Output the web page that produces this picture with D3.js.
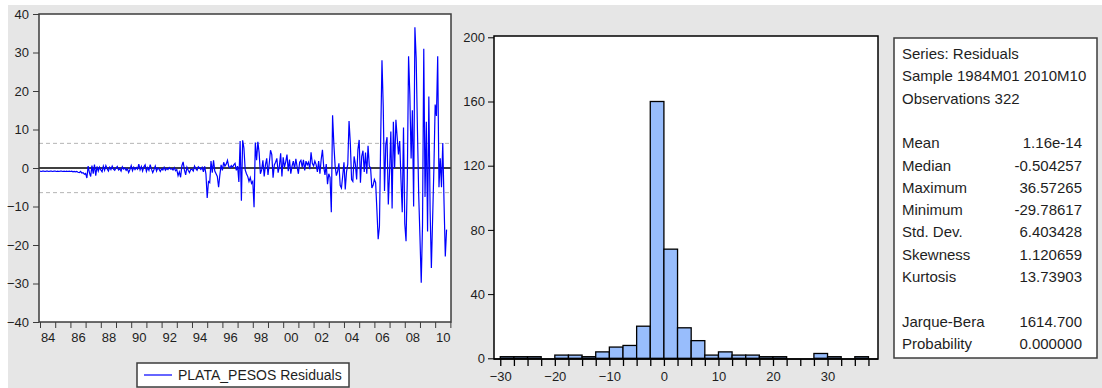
<!DOCTYPE html>
<html>
<head>
<meta charset="utf-8">
<script src="https://cdn.jsdelivr.net/npm/d3@7"></script>
<style>
  body { margin: 0; background: #fff; }
  svg { display: block; font-family: Arial, "Liberation Sans", sans-serif; }
</style>
</head>
<body>
<svg id="chart"></svg>
<script>
const width = 1102;
const height = 388;

// monthly residuals, 1984M01 .. 2010M10 (322 obs)
const residuals = [
  -0.8,-0.9,-0.8,-0.8,-0.9,-0.8,-0.8,-0.9,-0.8,-0.8,-0.9,-0.8, // 84
  -0.8,-0.9,-0.8,-0.9,-0.8,-0.8,-0.9,-0.8,-0.9,-0.8,-0.9,-0.8, // 85
  -0.9,-0.8,-1.0,-0.9,-1.0,-0.9,-1.1,-1.2,-0.9,-1.3,-1.2,-1.6, // 86
  -1.4,-2.6,0.5,-1.2,-2.2,0.6,-1.5,0.9,-2.0,0.4,-0.8,0.2,      // 87
  -0.5,-1.0,0.5,-0.6,0.6,-0.2,-0.8,0.2,-0.4,0.5,-0.3,-0.6,     // 88
  0.0,0.4,-0.5,-0.2,-0.8,0.3,-0.3,0.0,-0.6,-0.2,-1.2,-0.4,     // 89
  0.6,-0.7,0.2,-0.4,0.1,-0.3,1.0,-0.5,0.4,-0.8,0.3,0.8,        // 90
  -0.9,0.1,-0.6,0.9,-0.3,-1.2,-0.4,0.5,-0.8,0.0,-0.3,-0.9,     // 91
  -0.2,-0.5,0.2,-0.6,-0.1,-0.4,0.1,-0.3,-0.2,-0.5,0.1,-0.7,    // 92
  -0.4,-2.0,-1.0,-2.4,0.6,1.6,-0.5,-1.8,0.2,-0.6,-1.2,-0.4,    // 93
  -0.3,-0.8,0.5,-0.2,-0.6,0.3,0.0,-0.4,0.2,-1.0,0.4,-1.5,      // 94
  -7.8,-3.5,-3.8,1.8,-1.2,2.0,-0.8,-1.5,-2.2,-5.0,-1.8,0.8,    // 95
  -0.6,1.5,0.5,1.0,2.0,0.4,0.0,0.6,0.2,0.8,1.2,-0.6,           // 96
  0.5,-3.6,7.0,-8.5,7.2,5.2,-0.5,-1.5,-2.2,-3.5,-2.5,-4.0,     // 97
  -3.5,-10.2,6.6,2.0,6.8,4.0,-1.5,-0.5,2.0,-2.2,0.8,2.5,       // 98
  -1.8,1.2,4.6,3.5,-2.5,0.8,1.5,2.5,-1.2,0.5,3.8,-2.2,         // 99
  2.8,0.2,1.6,3.5,-0.8,2.2,-1.5,0.5,1.8,-0.2,2.4,0.3,          // 00
  -1.5,1.5,2.0,0.2,2.1,-0.6,1.8,0.8,1.5,-0.3,4.1,1.2,          // 01
  0.5,1.8,0.9,-1.0,1.8,-1.5,2.2,4.7,0.3,-1.8,1.0,-4.2,         // 02
  -1.5,-2.5,-11.5,13.7,6.2,0.5,-2.0,-0.8,1.2,-4.5,-5.2,-2.0,   // 03
  1.5,-5.6,-1.0,1.0,12.2,6.5,-3.0,-3.5,3.0,1.0,-3.0,4.8,       // 04
  7.3,-3.8,3.0,4.5,-1.0,4.0,-1.5,5.8,0.5,0.0,-5.2,-4.5,        // 05
  -3.0,-3.8,-11.0,-18.5,-15.2,8.0,28.0,16.0,-6.0,6.0,8.0,-9.5, // 06
  -1.0,9.5,-10.5,12.0,0.0,12.5,8.0,3.5,7.0,-3.0,-11.5,10.5,    // 07
  -14.5,-19.0,-3.0,29.0,19.0,2.5,15.0,-10.0,36.57,28.5,10.0,-7.0, // 08
  -18.0,-29.79,-15.0,31.0,-7.5,12.0,-16.5,18.6,-11.0,-26.0,-13.0,0.0, // 09
  16.5,13.5,29.0,-5.0,2.5,-5.0,6.5,-9.0,-23.0,-16.0            // 10
];

const yearLabels = ["84","86","88","90","92","94","96","98","00","02","04","06","08","10"];
const residualTicks = [-40, -30, -20, -10, 0, 10, 20, 30, 40];
const stdDev = 6.403428;
const seriesName = "PLATA_PESOS Residuals";

// histogram: bins of 2.5 starting at -30
const binStart = -30;
const binWidth = 2.5;
const histCounts = [1,1,1,0,2,2,1,4,7,8,20,160,68,19,11,2,4,2,2,1,1,0,0,3,1,0,1];
const histXLabels = [-30, -20, -10, 0, 10, 20, 30];
const histYTicks = [0, 40, 80, 120, 160, 200];

const statHeader = ["Series: Residuals", "Sample 1984M01 2010M10", "Observations 322"];
const statNames = ["Mean", "Median", "Maximum", "Minimum", "Std. Dev.", "Skewness", "Kurtosis", "", "Jarque-Bera", "Probability"];
const statValues = ["1.16e-14", "-0.504257", "36.57265", "-29.78617", "6.403428", "1.120659", "13.73903", "", "1614.700", "0.000000"];

const svg = d3.select("#chart")
  .attr("width", width)
  .attr("height", height);

// gray panel background
svg.append("rect")
  .attr("x", 8).attr("y", 5)
  .attr("width", width - 8).attr("height", height - 5)
  .attr("fill", "#e6e6e6");

const textColor = "#1e1e1e";

// ---------- left: residual line ----------
const plot = { left: 39, right: 451, top: 14, bottom: 322 };

const x = d3.scaleLinear()
  .domain([-0.8, 324.5])
  .range([plot.left, plot.right]);

const y = d3.scaleLinear()
  .domain([-40, 40])
  .range([plot.bottom, plot.top]);

svg.append("rect")
  .attr("x", plot.left).attr("y", plot.top)
  .attr("width", plot.right - plot.left).attr("height", plot.bottom - plot.top)
  .attr("fill", "#fff");

// +- 1 std dev dashed lines
svg.selectAll(".sd")
  .data([stdDev, -stdDev])
  .enter()
  .append("line")
  .attr("x1", plot.left).attr("x2", plot.right)
  .attr("y1", d => y(d)).attr("y2", d => y(d))
  .attr("stroke", "#b4b4b4")
  .attr("stroke-dasharray", "4,3");

svg.append("line")
  .attr("x1", plot.left).attr("x2", plot.right)
  .attr("y1", y(0)).attr("y2", y(0))
  .attr("stroke", "#000")
  .attr("stroke-width", 1.5);

const line = d3.line()
  .x((d, i) => x(i))
  .y(d => y(d));

svg.append("path")
  .datum(residuals)
  .attr("d", line)
  .attr("fill", "none")
  .attr("stroke", "#0000ff")
  .attr("stroke-width", 1.2);

svg.append("rect")
  .attr("x", plot.left).attr("y", plot.top)
  .attr("width", plot.right - plot.left).attr("height", plot.bottom - plot.top)
  .attr("fill", "none")
  .attr("stroke", "#3c3c3c")
  .attr("stroke-width", 1.5);

// y axis
const yAxis = svg.append("g")
  .attr("transform", `translate(${plot.left},0)`)
  .call(d3.axisLeft(y).tickValues(residualTicks).tickSize(6).tickPadding(4).tickSizeOuter(0));
yAxis.select(".domain").remove();
yAxis.selectAll("line").attr("stroke", "#3c3c3c");
yAxis.selectAll("text").attr("fill", textColor).style("font-size", "13px");

// x axis: year ticks, labels every 2 years at mid-year
const nYears = Math.ceil(residuals.length / 12) + 1;
const yearStarts = d3.range(0, nYears).map(k => k * 12);

const xTicks = svg.append("g")
  .attr("transform", `translate(0,${plot.bottom})`)
  .call(d3.axisBottom(x).tickValues(yearStarts).tickFormat("").tickSize(6).tickSizeOuter(0));
xTicks.select(".domain").remove();
xTicks.selectAll("line").attr("stroke", "#3c3c3c");

const labelMonths = yearLabels.map((d, i) => i * 24 + 6);
const xLabels = svg.append("g")
  .attr("transform", `translate(0,${plot.bottom})`)
  .call(d3.axisBottom(x).tickValues(labelMonths)
    .tickFormat((d, i) => yearLabels[i]).tickSize(0).tickPadding(11));
xLabels.select(".domain").remove();
xLabels.selectAll("text").attr("fill", textColor).style("font-size", "13px");

// legend
const legend = svg.append("g");
legend.append("rect")
  .attr("x", 137).attr("y", 363)
  .attr("width", 212).attr("height", 24)
  .attr("fill", "#fff")
  .attr("stroke", "#3c3c3c")
  .attr("stroke-width", 1.5);
legend.append("line")
  .attr("x1", 144).attr("x2", 172)
  .attr("y1", 375).attr("y2", 375)
  .attr("stroke", "#0000ff")
  .attr("stroke-width", 1.2);
legend.append("text")
  .attr("x", 178).attr("y", 380)
  .attr("fill", textColor)
  .style("font-size", "14px")
  .text(seriesName);

// ---------- middle: histogram ----------
const hist = { left: 494, right: 878, top: 36, bottom: 359 };

const bins = histCounts.map((c, i) => ({
  x0: binStart + i * binWidth,
  x1: binStart + (i + 1) * binWidth,
  count: c
}));

const hx = d3.scaleLinear()
  .domain([-31.15, 39.25])
  .range([hist.left, hist.right]);

const hy = d3.scaleLinear()
  .domain([0, 200])
  .range([358.3, 37.3]);

svg.append("rect")
  .attr("x", hist.left).attr("y", hist.top)
  .attr("width", hist.right - hist.left).attr("height", hist.bottom - hist.top)
  .attr("fill", "#fff")
  .attr("stroke", "#000")
  .attr("stroke-width", 1.5);

svg.selectAll(".bar")
  .data(bins.filter(d => d.count > 0))
  .enter()
  .append("rect")
  .attr("class", "bar")
  .attr("x", d => hx(d.x0))
  .attr("y", d => hy(d.count))
  .attr("width", d => hx(d.x1) - hx(d.x0))
  .attr("height", d => hy(0) - hy(d.count))
  .attr("fill", "#98bdfc")
  .attr("stroke", "#000")
  .attr("stroke-width", 1.3);

svg.append("line")
  .attr("x1", hist.left).attr("x2", hist.right)
  .attr("y1", hist.bottom).attr("y2", hist.bottom)
  .attr("stroke", "#000")
  .attr("stroke-width", 1.5);

const hyAxis = svg.append("g")
  .attr("transform", `translate(${hist.left},0)`)
  .call(d3.axisLeft(hy).tickValues(histYTicks).tickSize(6).tickPadding(3).tickSizeOuter(0));
hyAxis.select(".domain").remove();
hyAxis.selectAll("line").attr("stroke", "#000");
hyAxis.selectAll("text").attr("fill", textColor).style("font-size", "13px");

const binEdges = d3.range(histCounts.length + 1).map(i => binStart + i * binWidth);
const hxTicks = svg.append("g")
  .attr("transform", `translate(0,${hist.bottom})`)
  .call(d3.axisBottom(hx).tickValues(binEdges).tickFormat("").tickSize(7).tickSizeOuter(0));
hxTicks.select(".domain").remove();
hxTicks.selectAll("line").attr("stroke", "#000").attr("stroke-width", 1.3);

const hxLabels = svg.append("g")
  .attr("transform", `translate(0,${hist.bottom})`)
  .call(d3.axisBottom(hx).tickValues(histXLabels).tickSize(0).tickPadding(13));
hxLabels.select(".domain").remove();
hxLabels.selectAll("text").attr("fill", textColor).style("font-size", "13px");

// ---------- right: statistics box ----------
const box = { left: 894, top: 38, width: 203, height: 320 };

svg.append("rect")
  .attr("x", box.left).attr("y", box.top)
  .attr("width", box.width).attr("height", box.height)
  .attr("fill", "#fff")
  .attr("stroke", "#3c3c3c")
  .attr("stroke-width", 1.5);

const lineH = 22.3;
const firstBase = 59;
const statFont = "15px";

svg.selectAll(".hdr")
  .data(statHeader)
  .enter()
  .append("text")
  .attr("x", box.left + 8)
  .attr("y", (d, i) => firstBase + i * lineH)
  .attr("fill", textColor)
  .style("font-size", statFont)
  .text(d => d);

svg.selectAll(".sname")
  .data(statNames)
  .enter()
  .append("text")
  .attr("x", box.left + 8)
  .attr("y", (d, i) => firstBase + (i + 4) * lineH)
  .attr("fill", textColor)
  .style("font-size", statFont)
  .text(d => d);

svg.selectAll(".sval")
  .data(statValues)
  .enter()
  .append("text")
  .attr("x", 1082)
  .attr("y", (d, i) => firstBase + (i + 4) * lineH)
  .attr("text-anchor", "end")
  .attr("fill", textColor)
  .style("font-size", statFont)
  .text(d => d);
</script>
</body>
</html>
